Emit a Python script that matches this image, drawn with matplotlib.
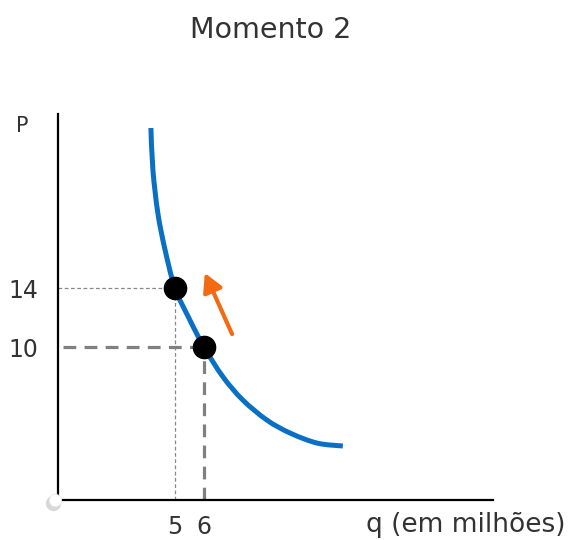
import matplotlib
matplotlib.use("Agg")
import matplotlib.pyplot as plt
from matplotlib.transforms import offset_copy
from matplotlib.path import Path
from matplotlib.patches import PathPatch

# ---- data ----
curve_q = [4.17, 4.24, 4.41, 4.66, 5.0, 5.48, 6.0, 6.66, 7.34, 8.17, 8.97, 9.90, 10.79]
curve_p = [24.85, 22.0, 19.08, 16.58, 14.0, 11.97, 10.0, 7.97, 6.41, 5.05, 4.17, 3.49, 3.29]
point_q = [5, 6]
point_p = [14, 10]
xtick_vals = [5, 6]
ytick_vals = [10, 14]
arrow_tail = (6.97, 10.88)
arrow_tip = (6.03, 15.02)

title = "Momento 2"
xlabel = "q (em milhões)"
ylabel = "P"

W, H = 569, 540
fig = plt.figure(figsize=(W / 100, H / 100), dpi=100)
ax = fig.add_axes([58 / W, 40 / H, 435 / W, 386 / H])
ax.set_xlim(0.966, 15.97)
ax.set_ylim(-0.37, 25.8)

for s in ["top", "right"]:
    ax.spines[s].set_visible(False)
for s in ["left", "bottom"]:
    ax.spines[s].set_linewidth(1.6)
    ax.spines[s].set_color("black")

ax.set_xticks(xtick_vals)
ax.set_yticks(ytick_vals)
ax.tick_params(length=0, labelsize=17, colors="#333333")
ax.tick_params(axis="x", pad=11)
ax.tick_params(axis="y", pad=14)

# guide lines
ax.plot([ax.get_xlim()[0], point_q[0]], [point_p[0], point_p[0]], color="#888888", lw=0.9, ls=(0, (3, 2)))
ax.plot([point_q[0], point_q[0]], [ax.get_ylim()[0], point_p[0]], color="#888888", lw=0.9, ls=(0, (3, 2)))
ax.plot([1.15, point_q[1]], [point_p[1], point_p[1]], color="#808080", lw=2.3, ls=(0, (4, 2.6)))
ax.plot([point_q[1], point_q[1]], [ax.get_ylim()[0], point_p[1]], color="#808080", lw=2.3, ls=(0, (4, 2.6)))

# demand curve: smooth Catmull-Rom -> cubic Bezier through the read points
pts = list(zip(curve_q, curve_p))
verts = [pts[0]]
codes = [Path.MOVETO]
n = len(pts)
for i in range(n - 1):
    p0 = pts[i - 1] if i > 0 else pts[i]
    p1 = pts[i]
    p2 = pts[i + 1]
    p3 = pts[i + 2] if i + 2 < n else pts[i + 1]
    c1 = (p1[0] + (p2[0] - p0[0]) / 6, p1[1] + (p2[1] - p0[1]) / 6)
    c2 = (p2[0] - (p3[0] - p1[0]) / 6, p2[1] - (p3[1] - p1[1]) / 6)
    verts += [c1, c2, p2]
    codes += [Path.CURVE4] * 3
ax.add_patch(PathPatch(Path(verts, codes), fill=False, edgecolor="#0A70C4", lw=3.6,
                       capstyle="butt", joinstyle="round", zorder=3))

# points
ax.plot(point_q, point_p, "o", color="black", ms=16, zorder=4)

# arrow
ax.annotate("", xy=arrow_tip, xytext=arrow_tail,
            arrowprops=dict(arrowstyle="-|>,head_length=0.55,head_width=0.3", color="#F26A12",
                            lw=3.0, shrinkA=0, shrinkB=0, mutation_scale=20), zorder=5)

# origin marker with shadow
x0, y0 = ax.get_xlim()[0], ax.get_ylim()[0]
sh = offset_copy(ax.transData, fig=fig, x=-3.5, y=-2.5, units="points")
ax.plot([x0], [y0], "o", color="#c8c8c8", ms=11, alpha=0.7, transform=sh, clip_on=False, zorder=5, mec="none")
mk = offset_copy(ax.transData, fig=fig, x=-2.5, y=0, units="points")
ax.plot([x0], [y0], "o", color="white", ms=9, transform=mk, clip_on=False, zorder=6, mec="#e6e6e6", mew=0.5)

# texts
fig.text(271 / W, 1 - 30 / H, title, ha="center", va="center", fontsize=20.5, color="#333333")
fig.text(565 / W, 1 - 525 / H, xlabel, ha="right", va="center", fontsize=19, color="#333333")
fig.text(22 / W, 1 - 126 / H, ylabel, ha="center", va="center", fontsize=15, color="#333333")

fig.savefig("out.png", dpi=100)
